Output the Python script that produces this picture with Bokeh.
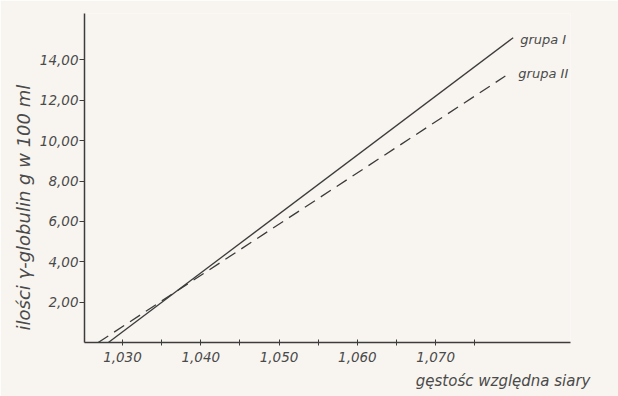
from bokeh.plotting import figure
from bokeh.models import FixedTicker, Label, Range1d, Title
from bokeh.embed import file_html
from bokeh.resources import INLINE

# ---- data ----
series_names = ["grupa I", "grupa II"]
density_I = [1.0282, 1.0799]
gamma_I = [0.0, 15.1]
density_II = [1.0269, 1.0789]
gamma_II = [0.0, 13.2]

x_ticks = [1.030, 1.040, 1.050, 1.060, 1.070]
x_tick_labels = ["1,030", "1,040", "1,050", "1,060", "1,070"]
x_minor_ticks = [1.035, 1.045, 1.055, 1.065, 1.075]
y_ticks = [2, 4, 6, 8, 10, 12, 14]
y_tick_labels = ["2,00", "4,00", "6,00", "8,00", "10,00", "12,00", "14,00"]

x_title = "gęstośc względna siary"
y_title = "ilości γ-globulin g w 100 ml"

BG = "#f8f5f0"
INK = "#3c3c3c"
TXT = "#4a4a4a"
FONT = "DejaVu Sans"

p = figure(width=618, height=396, output_backend="svg", toolbar_location=None,
           x_range=Range1d(1.02515, 1.08722), y_range=Range1d(0, 16.3),
           min_border_left=84, min_border_right=48, min_border_top=13,
           min_border_bottom=54)
p.background_fill_color = BG
p.border_fill_color = BG
p.outline_line_color = None
p.grid.visible = False

p.line(density_I, gamma_I, line_color=INK, line_width=1.3)
p.line(density_II, gamma_II, line_color=INK, line_width=1.3, line_dash="12 7")

# axes
xa = p.xaxis[0]
xa.ticker = FixedTicker(ticks=x_ticks, minor_ticks=x_minor_ticks)
xa.major_label_overrides = dict(zip(x_ticks, x_tick_labels))
xa.axis_line_color = INK
xa.axis_line_width = 1.5
xa.major_tick_in = 3
xa.major_tick_out = 3
xa.minor_tick_in = 3
xa.minor_tick_out = 3
xa.major_tick_line_color = INK
xa.minor_tick_line_color = INK
xa.major_label_standoff = 6
xa.major_label_text_font = FONT
xa.major_label_text_font_style = "italic"
xa.major_label_text_font_size = "13.5px"
xa.major_label_text_color = TXT

ya = p.yaxis[0]
ya.ticker = FixedTicker(ticks=y_ticks, minor_ticks=[])
ya.major_label_overrides = dict(zip(y_ticks, y_tick_labels))
ya.axis_line_color = INK
ya.axis_line_width = 1.5
ya.major_tick_in = 0
ya.major_tick_out = 5
ya.minor_tick_in = 0
ya.minor_tick_out = 0
ya.major_tick_line_color = INK
ya.major_label_standoff = 1
ya.major_label_text_font = FONT
ya.major_label_text_font_style = "italic"
ya.major_label_text_font_size = "13.5px"
ya.major_label_text_color = TXT

# y title on the left, placed a little below centre as in the reference
p.add_layout(Title(text=y_title, align="left", offset=12,
                   text_font=FONT, text_font_style="italic",
                   text_font_size="18px", text_color=TXT,
                   standoff=6), "left")

# x title at lower right, below the tick labels
p.add_layout(Title(text=x_title, align="right", offset=-20,
                   text_font=FONT, text_font_style="italic",
                   text_font_size="15px", text_color=TXT), "below")

# series labels at line ends
for xs, ys, name, dx, dy in [(density_I, gamma_I, series_names[0], 7, -2),
                             (density_II, gamma_II, series_names[1], 13, 3)]:
    p.add_layout(Label(x=xs[-1], y=ys[-1], text=name, x_offset=dx, y_offset=dy,
                       text_baseline="middle", text_font=FONT,
                       text_font_style="italic", text_font_size="13px",
                       text_color=TXT))

open("out.html", "w").write(file_html(p, INLINE))
